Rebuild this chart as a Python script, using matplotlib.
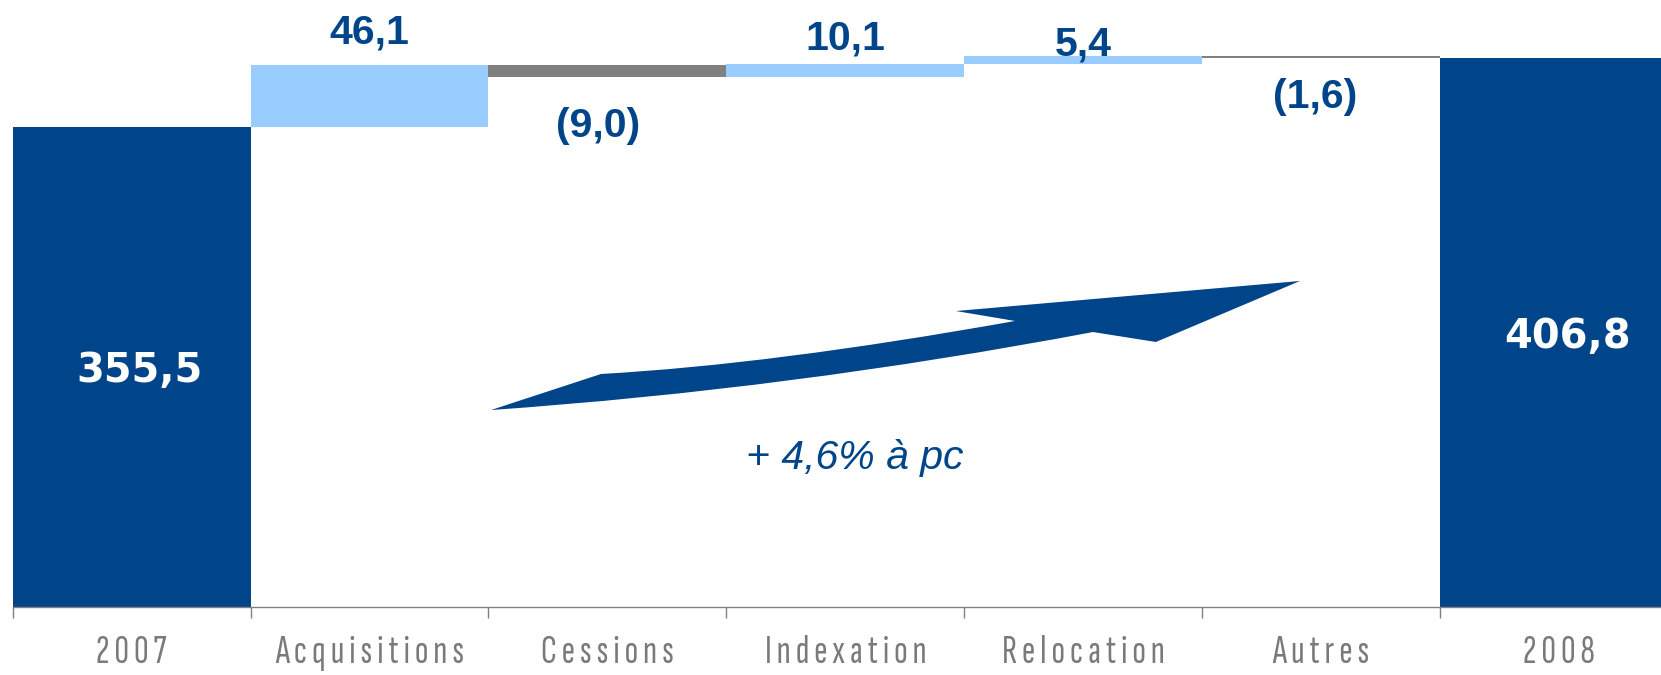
import matplotlib.pyplot as plt
import numpy as np
from matplotlib.patches import PathPatch
from matplotlib.path import Path

categories = ["2007", "Acquisitions", "Cessions", "Indexation", "Relocation", "Autres", "2008"]
start_total = 355.5
changes = [46.1, -9.0, 10.1, 5.4, -1.6]
end_total = 406.8
growth_text = "+ 4,6% à pc"

DARK_BLUE = "#00458a"
LIGHT_BLUE = "#99ccff"
GREY = "#808080"

# offsets (points) of the change labels from the bar end they sit on
change_label_offsets = [(0, 15.8), (-7, -43), (0, 10.4), (0, 0.7), (-4, -36)]


def fmt(v):
    s = f"{abs(v):.1f}".replace(".", ",")
    return f"({s})" if v < 0 else s


def spaced(s):
    return " ".join(s)


W, H = 1661, 675
fig = plt.figure(figsize=(W / 100, H / 100), dpi=100)
# the axis runs a little past the right edge, so the 2008 bar is clipped
ax = fig.add_axes([12.7 / W, 68 / H, 7 * 237.9 / W, 607 / H])

x = np.arange(len(categories))
levels = start_total + np.concatenate([[0], np.cumsum(changes)])
bottoms = levels[:-1]

ax.bar(x[0], start_total, width=1.0, color=DARK_BLUE)
ax.bar(x[-1], end_total, width=1.0, color=DARK_BLUE)
for i, (b, c) in enumerate(zip(bottoms, changes)):
    colour = LIGHT_BLUE if c > 0 else GREY
    ax.bar(x[i + 1], c, bottom=b, width=1.0, color=colour)

# change labels: above rises, below falls
for i, (b, c, off) in enumerate(zip(bottoms, changes, change_label_offsets)):
    anchor = max(b, b + c) if c > 0 else min(b, b + c)
    ax.annotate(fmt(c), (x[i + 1], anchor), xytext=off, textcoords="offset points",
                ha="center", va="baseline", color=DARK_BLUE,
                fontsize=29.5, fontweight="bold", family=["Liberation Sans", "DejaVu Sans"])

for xi, total in [(x[0], start_total), (x[-1], end_total)]:
    ax.annotate(fmt(total), (xi, total / 2), xytext=(6, -10.8), textcoords="offset points",
                ha="center", va="baseline", color="white",
                fontsize=28.8, fontweight="bold", family="DejaVu Sans")

# growth arrow, drawn in axes fraction
verts = [
    (0.2872, 0.3245),  # tail tip
    (0.3533, 0.3839),  # tail top
    (0.4559, 0.3995), (0.6019, 0.4712),  # upper edge
    (0.5664, 0.4876),  # head barb, top
    (0.7730, 0.5371),  # tip
    (0.6865, 0.4366),  # head barb, bottom
    (0.6487, 0.4530),  # notch
    (0.4680, 0.3591), (0.2872, 0.3245),  # lower edge
    (0.2872, 0.3245),
]
codes = [Path.MOVETO, Path.LINETO, Path.CURVE3, Path.CURVE3, Path.LINETO, Path.LINETO,
         Path.LINETO, Path.LINETO, Path.CURVE3, Path.CURVE3, Path.CLOSEPOLY]
ax.add_patch(PathPatch(Path(verts, codes), transform=ax.transAxes,
                       facecolor=DARK_BLUE, edgecolor="none"))
ax.text(0.5058, 0.2455, growth_text, transform=ax.transAxes, ha="center", va="center",
        color=DARK_BLUE, fontsize=29.5, style="italic",
        family=["Liberation Sans", "DejaVu Sans"])

ax.set_xlim(-0.5, len(categories) - 0.5)
ax.set_ylim(0, 449.8)
ax.set_yticks([])
for side in ["left", "right", "top"]:
    ax.spines[side].set_visible(False)
ax.spines["bottom"].set_color(GREY)
ax.spines["bottom"].set_linewidth(1.0)

ax.set_xticks(x)
ax.set_xticklabels([spaced(c) for c in categories],
                   family=["Sofia Sans Extra Condensed", "DejaVu Sans"],
                   fontsize=29, color="#7a7a7a")
ax.set_xticks(np.arange(len(categories)) - 0.5, minor=True)
ax.tick_params(axis="x", which="major", length=0, pad=20)
ax.tick_params(axis="x", which="minor", length=8, width=1.0, color=GREY)

fig.savefig("out.png", dpi=100)
